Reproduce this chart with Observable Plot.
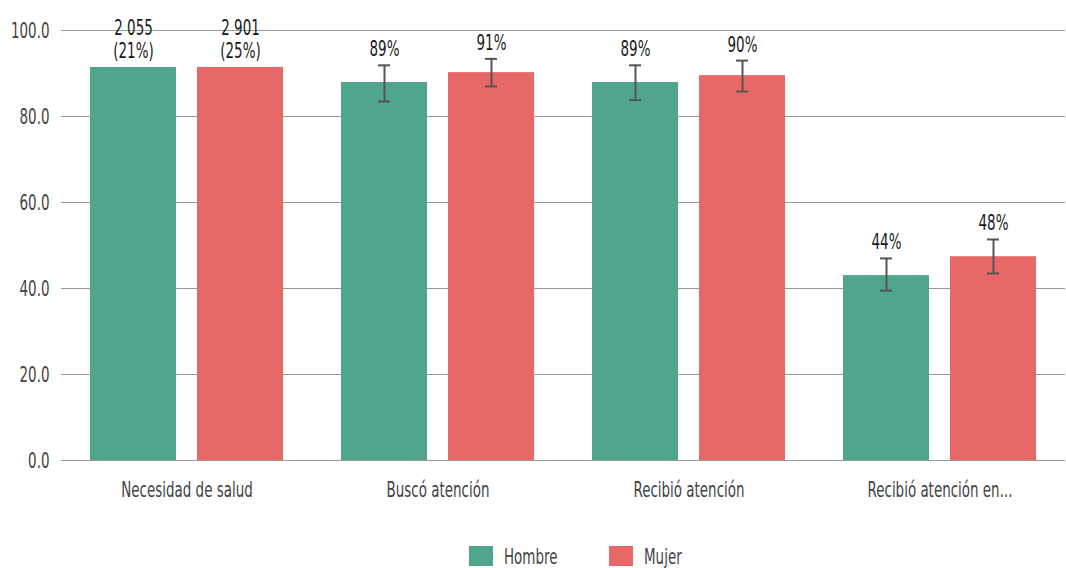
<!DOCTYPE html>
<html>
<head>
<meta charset="utf-8">
<script src="https://cdn.jsdelivr.net/npm/d3@7"></script>
<script src="https://cdn.jsdelivr.net/npm/@observablehq/plot@0.6"></script>
<style>
  body { margin: 0; background: #fff; font-family: "DejaVu Sans Condensed", sans-serif; }
  #legend { position: relative; height: 30px; margin-top: 35px; font-size: 22px; color: #444; }
  .item { position: absolute; top: 0; display: flex; align-items: center; height: 22px; }
  .sw { width: 24px; height: 20px; margin-right: 11px; }
  .lbl { display: inline-block; transform: scaleX(0.68); transform-origin: left center; white-space: nowrap; }
</style>
</head>
<body>
<div id="chart"></div>
<div id="legend"></div>
<script>
const categories = ["Necesidad de salud", "Buscó atención", "Recibió atención", "Recibió atención en..."];
const sexes = ["Hombre", "Mujer"];
const colors = ["#50A58D", "#E66967"];
const hombre = [91.4, 87.9, 87.9, 43.0];
const mujer = [91.4, 90.2, 89.5, 47.4];
const hombreLow = [null, 83.5, 83.8, 39.5];
const hombreHigh = [null, 91.9, 91.9, 47.0];
const mujerLow = [null, 87.0, 85.8, 43.5];
const mujerHigh = [null, 93.4, 93.0, 51.4];
const hombreLabels = ["2 055\n(21%)", "89%", "89%", "44%"];
const mujerLabels = ["2 901\n(25%)", "91%", "90%", "48%"];
const yTicks = [0, 20, 40, 60, 80, 100];

const data = [];
categories.forEach((c, i) => {
  data.push({cat: c, sex: "Hombre", value: hombre[i], low: hombreLow[i], high: hombreHigh[i], label: hombreLabels[i]});
  data.push({cat: c, sex: "Mujer", value: mujer[i], low: mujerLow[i], high: mujerHigh[i], label: mujerLabels[i]});
});
const errData = data.filter(d => d.low != null);
data.forEach(d => d.labelY = d.high != null ? d.high : d.value);

const chart = Plot.plot({
  width: 1066,
  height: 510,
  marginTop: 30,
  marginLeft: 60,
  marginRight: 0,
  marginBottom: 50,
  style: {fontFamily: '"DejaVu Sans Condensed", sans-serif', fontSize: "22px", color: "#444", background: "#fff"},
  fx: {domain: categories, padding: 0, label: null},
  x: {domain: sexes, paddingInner: 0.2, paddingOuter: 0.27, axis: null},
  y: {domain: [0, 100], label: null},
  color: {domain: sexes, range: colors},
  marks: [
    Plot.ruleY(yTicks, {stroke: "#999", strokeWidth: 1.2}),
    Plot.axisY({ticks: yTicks, tickFormat: d3.format(".1f"), tickSize: 0, tickPadding: 12, fontSize: 22, label: null}),
    Plot.axisFx({anchor: "bottom", tickSize: 0, tickPadding: 21, fontSize: 22, label: null}),
    Plot.barY(data, {fx: "cat", x: "sex", y: "value", fill: "sex"}),
    Plot.ruleX(errData, {fx: "cat", x: "sex", y1: "low", y2: "high", stroke: "#555", strokeWidth: 2}),
    Plot.tickY(errData, {fx: "cat", x: "sex", y: "low", stroke: "#555", strokeWidth: 2, insetLeft: 37, insetRight: 37}),
    Plot.tickY(errData, {fx: "cat", x: "sex", y: "high", stroke: "#555", strokeWidth: 2, insetLeft: 37, insetRight: 37}),
    Plot.text(data, {fx: "cat", x: "sex", y: "labelY", text: "label", lineAnchor: "bottom", dy: -9, fill: "#1a1a1a", fontSize: 22, lineHeight: 1.05})
  ]
});
// emulate a condensed typeface: compress each text horizontally about its anchor
const SX = 0.68;
chart.querySelectorAll("text").forEach(t => {
  const x = parseFloat(t.getAttribute("x") || 0);
  const tr = t.getAttribute("transform") || "";
  t.setAttribute("transform", `${tr} translate(${x},0) scale(${SX},1) translate(${-x},0)`);
});
document.getElementById("chart").appendChild(chart);

const legend = document.getElementById("legend");
const legendLeft = [469, 609];
sexes.forEach((s, i) => {
  const it = document.createElement("div");
  it.className = "item";
  it.style.left = legendLeft[i] + "px";
  it.innerHTML = `<div class="sw" style="background:${colors[i]}"></div><span class="lbl">${s}</span>`;
  legend.appendChild(it);
});
</script>
</body>
</html>
